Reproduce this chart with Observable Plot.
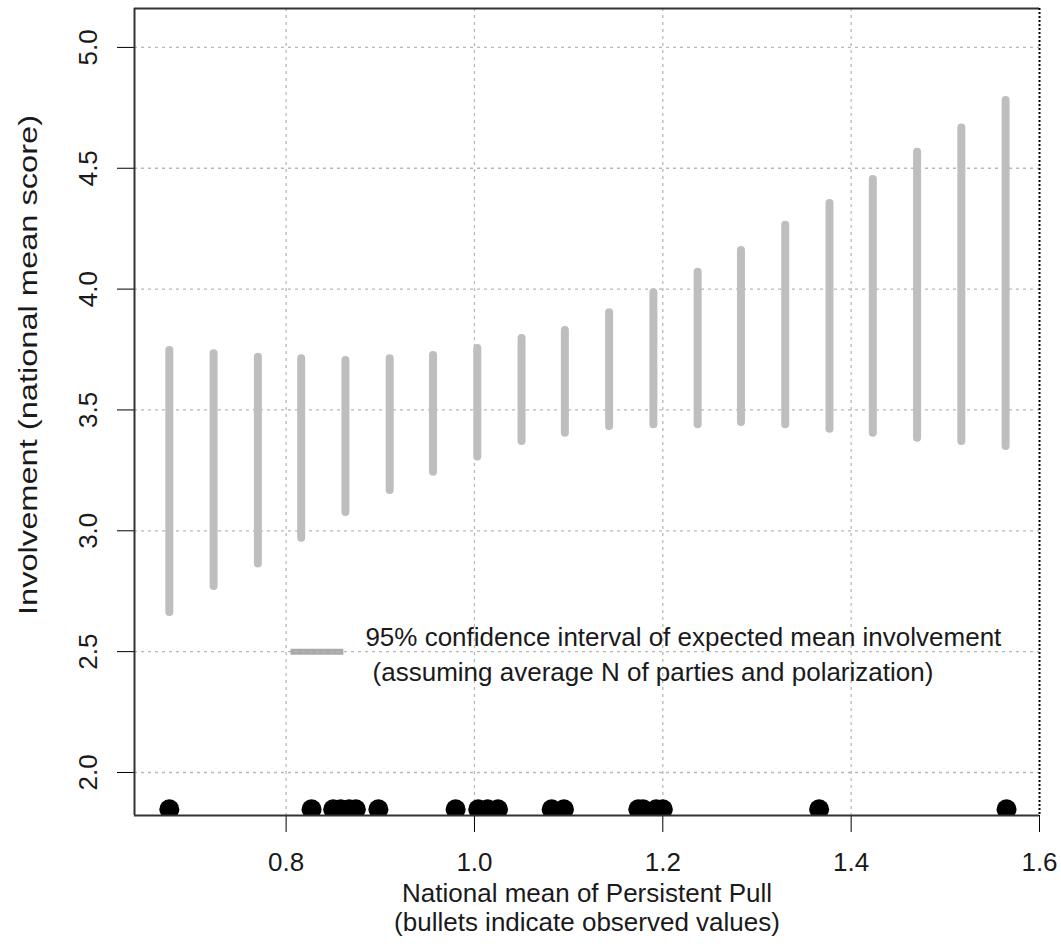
<!DOCTYPE html>
<html><head><meta charset="utf-8">
<script src="https://cdn.jsdelivr.net/npm/d3@7"></script>
<script src="https://cdn.jsdelivr.net/npm/@observablehq/plot@0.6"></script>
<style>
body{margin:0;background:#fff;}
#chart svg{font-family:"Liberation Sans",Arial,sans-serif;background:#fff;}
</style>
</head><body><div id="chart"></div>
<script>
// Grid of Persistent Pull values where the CI was computed
const ciX = [0.676, 0.723, 0.770, 0.816, 0.863, 0.910, 0.956, 1.003, 1.050, 1.096,
             1.143, 1.190, 1.237, 1.283, 1.330, 1.377, 1.423, 1.470, 1.517, 1.564];
const ciHigh = [3.746, 3.732, 3.718, 3.712, 3.705, 3.712, 3.725, 3.754, 3.796, 3.829,
                3.902, 3.985, 4.070, 4.160, 4.264, 4.354, 4.453, 4.566, 4.667, 4.780];
const ciLow = [2.662, 2.770, 2.863, 2.969, 3.076, 3.167, 3.242, 3.305, 3.369, 3.404,
               3.432, 3.439, 3.439, 3.448, 3.439, 3.420, 3.404, 3.383, 3.369, 3.349];
// Observed national means (bullets)
const observedX = [0.676, 0.827, 0.850, 0.858, 0.867, 0.874, 0.898, 0.980, 1.004, 1.014,
                   1.025, 1.082, 1.095, 1.174, 1.179, 1.193, 1.200, 1.366, 1.565];
const bulletY = 1.848;
const xTicks = [0.8, 1.0, 1.2, 1.4, 1.6];
const yTicks = [2.0, 2.5, 3.0, 3.5, 4.0, 4.5, 5.0];
const xDomain = [0.639, 1.600];
const yDomain = [1.822, 5.161];
const xLabelLines = ["National mean of Persistent Pull", "(bullets indicate observed values)"];
const yLabel = "Involvement (national mean score)";
const legendLines = ["95% confidence interval of expected mean involvement",
                     "\u00a0(assuming average N of parties and polarization)"];
const legendKey = {x1: 0.8046, x2: 0.8608, y: 2.5};

const ciData = ciX.map((x, i) => ({x, lo: ciLow[i], hi: ciHigh[i]}));
const obsData = observedX.map(x => ({x, y: bulletY}));

const FS = 26;
const ink = "#1a1a1a";
const chart = Plot.plot({
  width: 1061, height: 950,
  marginLeft: 134, marginRight: 22, marginTop: 8, marginBottom: 135,
  style: {fontSize: FS + "px", fontFamily: "'Liberation Sans', Arial, sans-serif", background: "#fff"},
  x: {domain: xDomain, ticks: xTicks, tickSize: 17, tickFormat: () => "", label: null},
  y: {domain: yDomain, ticks: yTicks, tickSize: 17, tickFormat: () => "", label: null},
  marks: [
    // legend key (drawn under grid like the original)
    Plot.link([legendKey], {x1: "x1", x2: "x2", y1: "y", y2: "y", stroke: "#aaaaaa", strokeWidth: 6}),
    // grid
    Plot.ruleX(xTicks.slice(0, 4), {stroke: "#b8b8b8", strokeWidth: 1.3, strokeDasharray: "3,4"}),
    Plot.ruleY(yTicks, {stroke: "#b8b8b8", strokeWidth: 1.3, strokeDasharray: "3,4"}),
    // CI bars
    Plot.ruleX(ciData, {x: "x", y1: "lo", y2: "hi", stroke: "#bebebe", strokeWidth: 8, strokeLinecap: "round"}),
    // observed bullets
    Plot.dot(obsData, {x: "x", y: "y", r: 10, fill: "black", stroke: "none", clip: true}),
    // box: left/top/bottom solid, right dotted
    Plot.ruleX([xDomain[0]], {stroke: "#333", strokeWidth: 2}),
    Plot.ruleY([yDomain[0], yDomain[1]], {stroke: "#333", strokeWidth: 2}),
    Plot.ruleX([xDomain[1]], {stroke: "#000", strokeWidth: 2, strokeDasharray: "2,2"}),
    // legend text
    Plot.text([legendLines[0]], {x: legendKey.x2, y: legendKey.y, dx: 22, dy: -14, textAnchor: "start", lineAnchor: "middle", fill: ink, fontSize: FS}),
    Plot.text([legendLines[1]], {x: legendKey.x2, y: legendKey.y, dx: 22, dy: 21, textAnchor: "start", lineAnchor: "middle", fill: ink, fontSize: FS}),
    // tick labels
    Plot.text(xTicks, {x: d => d, frameAnchor: "bottom", dy: 47, lineAnchor: "middle", textAnchor: "middle", text: d => d.toFixed(1), fill: ink, fontSize: FS}),
    Plot.text(yTicks, {y: d => d, frameAnchor: "left", dx: -46, rotate: -90, lineAnchor: "middle", textAnchor: "middle", text: d => d.toFixed(1), fill: ink, fontSize: FS}),
    // axis titles
    Plot.text([xLabelLines.join("\n")], {frameAnchor: "bottom", dy: 92, lineAnchor: "middle", textAnchor: "middle", lineHeight: 1.12, fill: ink, fontSize: FS}),
    Plot.text([yLabel], {frameAnchor: "left", dx: -106, dy: 203, rotate: -90, lineAnchor: "middle", textAnchor: "start", fill: ink, fontSize: FS})
  ]
});
// the original's rotated axis title is drawn elongated along its baseline
chart.querySelectorAll("text").forEach(t => {
  if (t.textContent === yLabel) {
    t.setAttribute("textLength", "500");
    t.setAttribute("lengthAdjust", "spacingAndGlyphs");
  }
});
document.getElementById("chart").appendChild(chart);
</script>
</body></html>
